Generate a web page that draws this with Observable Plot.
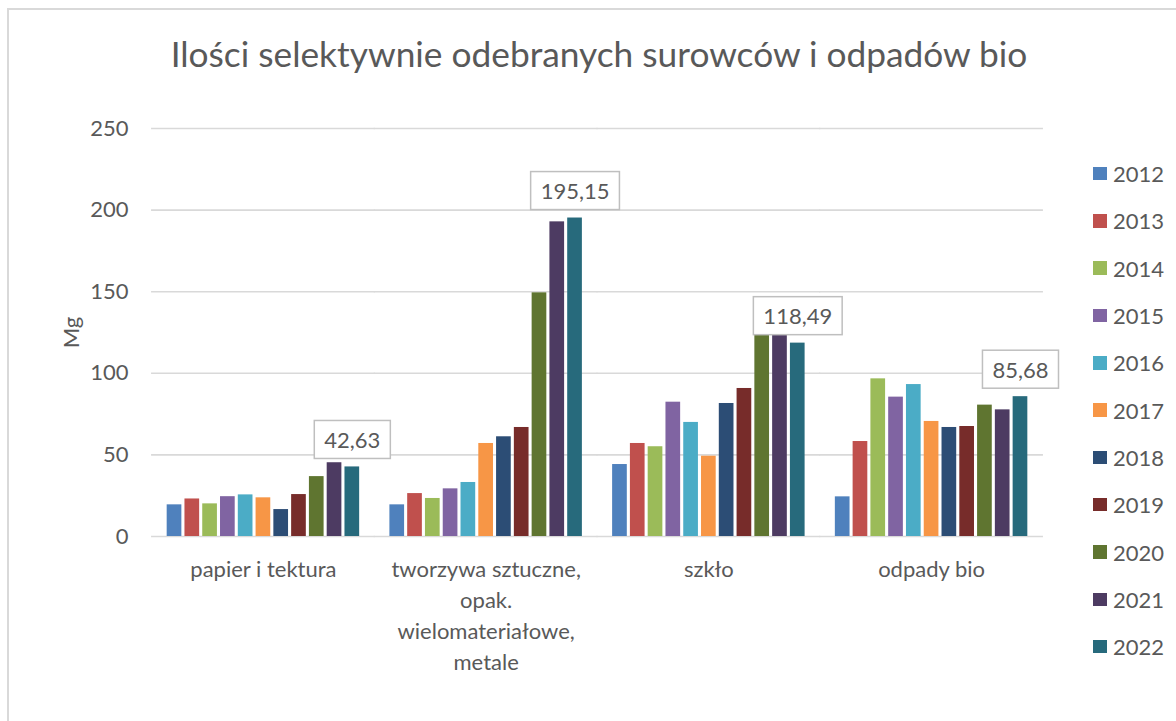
<!DOCTYPE html>
<html>
<head>
<meta charset="utf-8">
<script src="https://cdn.jsdelivr.net/npm/d3@7"></script>
<script src="https://cdn.jsdelivr.net/npm/@observablehq/plot@0.6"></script>
<style>
  html, body { margin: 0; padding: 0; background: #fff; }
  #chart { position: relative; width: 1176px; height: 721px; overflow: hidden; font-family: Lato, sans-serif; color: #595959; }
  #frame { position: absolute; left: 7px; top: 8px; width: 1200px; height: 740px; border: 2px solid #d9d9d9; box-sizing: border-box; }
  #title { position: absolute; left: 11px; top: 35px; width: 1176px; text-align: center; font-size: 35.3px; line-height: 37px; white-space: nowrap; }
  #plot { position: absolute; left: 0; top: 0; }
  #legend { position: absolute; left: 1093px; top: 150px; }
  .item { display: flex; align-items: center; height: 47.3px; font-size: 22px; }
  .sw { width: 13.5px; height: 13.5px; margin-right: 6.5px; }
</style>
</head>
<body>
<div id="chart">
  <div id="frame"></div>
  <div id="title"></div>
  <div id="plot"></div>
  <div id="legend"></div>
</div>
<script>
const title = "Ilości selektywnie odebranych surowców i odpadów bio";
const yLabel = "Mg";
const categories = ["papier i tektura", "tworzywa sztuczne, opak. wielomateriałowe, metale", "szkło", "odpady bio"];
const categoryLines = ["papier i tektura", "tworzywa sztuczne,\nopak.\nwielomateriałowe,\nmetale", "szkło", "odpady bio"];
const years = ["2012", "2013", "2014", "2015", "2016", "2017", "2018", "2019", "2020", "2021", "2022"];
const colors = ["#4F81BD", "#C0504D", "#9BBB59", "#8064A2", "#4BACC6", "#F79646", "#2C4D75", "#772C2A", "#5F7530", "#4D3B62", "#276A7C"];
const papier = [19.4, 23.0, 20.0, 24.4, 25.5, 23.7, 16.5, 25.7, 36.7, 45.2, 42.63];
const tworzywa = [19.4, 26.3, 23.3, 29.2, 33.1, 57.0, 61.1, 66.8, 149.3, 192.8, 195.15];
const szklo = [44.1, 57.0, 55.0, 82.3, 69.9, 49.2, 81.5, 90.7, 124.0, 125.0, 118.49];
const bio = [24.3, 58.2, 96.6, 85.4, 93.1, 70.5, 66.8, 67.4, 80.5, 77.6, 85.68];
const yTicks = [0, 50, 100, 150, 200, 250];
const labelYear = "2022";

const series = [papier, tworzywa, szklo, bio];
const data = categories.flatMap((c, i) => years.map((yr, j) => ({category: c, year: yr, value: series[i][j]})));
const labels = data.filter(d => d.year === labelYear);
const fmt = v => v.toFixed(2).replace(".", ",");

document.getElementById("title").textContent = title;

const mL = 151, mR = 133;
const fxPadInner = 0.108, fxPadOuter = 0.0565;
const plotW = 1176 - mL - mR;
const fxStep = plotW / (categories.length - fxPadInner + 2 * fxPadOuter);
const halfGap = fxStep * fxPadInner / 2;
const outerPad = fxStep * fxPadOuter;

const plot = Plot.plot({
  width: 1176,
  height: 721,
  marginTop: 128,
  marginBottom: 185,
  marginLeft: mL,
  marginRight: mR,
  style: {fontFamily: "Lato, sans-serif", fontSize: "22px", color: "#595959", background: "transparent", overflow: "visible"},
  fx: {domain: categories, paddingInner: fxPadInner, paddingOuter: fxPadOuter, round: false, label: null},
  x: {domain: years, padding: 0.174, round: false, axis: null},
  y: {domain: [0, 250], label: null},
  color: {domain: years, range: colors},
  marks: [
    Plot.ruleY(yTicks, {stroke: "#d9d9d9", strokeWidth: 1.6, insetLeft: -halfGap - 0.5, insetRight: -halfGap - 0.5}),
    Plot.axisY(yTicks, {tickSize: 0, tickPadding: outerPad + 23, tickFormat: d => String(d), label: yLabel, labelAnchor: "center", labelOffset: 101, labelArrow: "none", fontSize: 22}),
    Plot.axisFx({anchor: "bottom", tickSize: 0, tickPadding: 19, tickFormat: d => categoryLines[categories.indexOf(d)], lineHeight: 1.4, label: null}),
    Plot.barY(data, {fx: "category", x: "year", y: "value", fill: "year"}),
    Plot.text(labels, {fx: "category", x: "year", y: "value", text: d => fmt(d.value), dy: -26, lineAnchor: "middle", className: "dlabel"})
  ]
});
document.getElementById("plot").appendChild(plot);

// boxes behind data labels
plot.querySelectorAll(".dlabel text").forEach(t => {
  const b = t.getBBox();
  const r = document.createElementNS("http://www.w3.org/2000/svg", "rect");
  const cy = b.y + b.height / 2;
  r.setAttribute("x", b.x - 10);
  r.setAttribute("y", cy - 19);
  r.setAttribute("width", b.width + 20);
  r.setAttribute("height", 38);
  r.setAttribute("fill", "#fff");
  r.setAttribute("stroke", "#bfbfbf");
  r.setAttribute("stroke-width", 1.5);
  if (t.getAttribute("transform")) r.setAttribute("transform", t.getAttribute("transform"));
  t.parentNode.insertBefore(r, t);
});

// legend
const legend = document.getElementById("legend");
years.forEach((yr, i) => {
  const item = document.createElement("div");
  item.className = "item";
  const sw = document.createElement("div");
  sw.className = "sw";
  sw.style.background = colors[i];
  const tx = document.createElement("span");
  tx.textContent = yr;
  item.appendChild(sw);
  item.appendChild(tx);
  legend.appendChild(item);
});
</script>
</body>
</html>
